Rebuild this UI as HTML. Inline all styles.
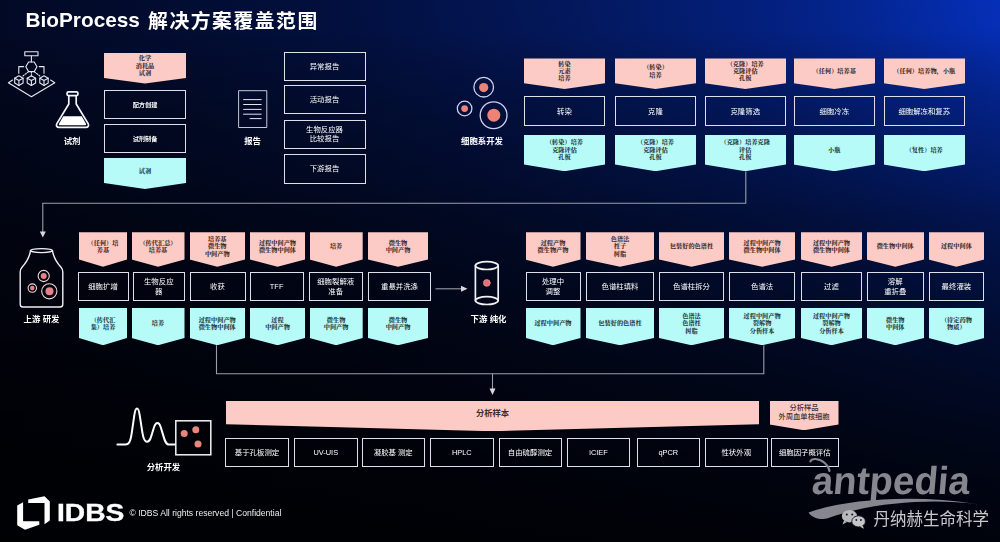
<!DOCTYPE html>
<html lang="zh"><head><meta charset="utf-8"><title>BioProcess 解决方案覆盖范围</title>
<style>
html,body{margin:0;padding:0}
body{width:1000px;height:542px;overflow:hidden;position:relative;background:#010208;font-family:"Liberation Sans","Noto Sans CJK SC",sans-serif;color:#fff}
#bg{position:absolute;left:0;top:0;width:1000px;height:542px;
background:
linear-gradient(180deg,rgba(0,0,1,0.000) 0.00%,rgba(0,0,1,0.010) 5.54%,rgba(0,0,1,0.136) 11.07%,rgba(0,0,1,0.170) 12.73%,rgba(0,0,1,0.236) 16.61%,rgba(0,0,1,0.280) 19.37%,rgba(0,0,1,0.318) 22.14%,rgba(0,0,1,0.387) 27.68%,rgba(0,0,1,0.450) 33.21%,rgba(0,0,1,0.541) 38.75%,rgba(0,0,1,0.555) 39.67%,rgba(0,0,1,0.601) 44.28%,rgba(0,0,1,0.651) 49.82%,rgba(0,0,1,0.694) 55.35%,rgba(0,0,1,0.739) 60.89%,rgba(0,0,1,0.777) 66.42%,rgba(0,0,1,0.810) 71.96%,rgba(0,0,1,0.820) 73.80%,rgba(0,0,1,0.845) 77.49%,rgba(0,0,1,0.876) 83.03%,rgba(0,0,1,0.901) 88.56%,rgba(0,0,1,0.915) 92.25%,rgba(0,0,1,0.922) 94.10%,rgba(0,0,1,0.941) 99.63%,rgba(0,0,1,0.942) 100.00%),
linear-gradient(90deg,rgb(2,9,37) 0.0%,rgb(2,10,40) 5.0%,rgb(2,11,43) 10.0%,rgb(2,12,47) 15.0%,rgb(2,13,51) 20.0%,rgb(2,14,55) 25.0%,rgb(2,15,59) 30.0%,rgb(2,16,64) 35.0%,rgb(2,18,70) 40.0%,rgb(3,19,76) 45.0%,rgb(3,21,82) 50.0%,rgb(3,23,89) 55.0%,rgb(3,25,97) 60.0%,rgb(3,27,105) 65.0%,rgb(3,29,113) 70.0%,rgb(3,31,123) 75.0%,rgb(4,34,133) 80.0%,rgb(4,37,144) 85.0%,rgb(4,40,157) 90.0%,rgb(4,43,170) 95.0%,rgb(5,47,184) 100.0%);}
.title{position:absolute;left:25.5px;top:6.8px;font-size:20.8px;font-weight:bold;white-space:nowrap;line-height:26px;color:#fff}
.chev{position:absolute;box-sizing:border-box}
.chev .in{display:flex;align-items:center;justify-content:center;text-align:center;width:100%}
.ct{font-family:"Liberation Serif","Noto Serif CJK SC",serif;font-weight:900;font-size:6.2px;line-height:7.4px;color:#423232;white-space:nowrap}
.box{position:absolute;box-sizing:border-box;border:1.6px solid #dedfe8;display:flex;align-items:center;justify-content:center;text-align:center;font-size:7.4px;line-height:9.5px;color:#fff;white-space:nowrap;padding-top:1.6px}
.box.sm{font-size:6.2px;font-weight:bold;padding-top:0}
.box.rp{padding-top:0}
.cy{color:#2c4246}
.bt{font-family:"Liberation Sans","Noto Sans CJK SC",sans-serif;font-weight:bold;font-size:8.3px;color:#3d2c2c;padding-left:0}
.st{font-family:"Liberation Sans","Noto Sans CJK SC",sans-serif;font-weight:500;font-size:7.3px;line-height:8.5px;color:#3f3636}
.box.bb{padding-top:.4px}
.lab{position:absolute;text-align:center;font-weight:bold;font-size:8.4px;margin-top:-.5px;line-height:16px;color:#fff;white-space:nowrap}
svg{position:absolute;left:0;top:0}
#fg{position:absolute;left:0;top:0;width:1000px;height:542px;filter:blur(.45px)}
.foot{position:absolute;white-space:nowrap}
</style></head><body>
<div id="bg"></div>
<div id="fg">
<div class="title">BioProcess <span style="font-size:19.8px;letter-spacing:1.55px;margin-left:2.4px;position:relative;top:1.1px">解决方案覆盖范围</span></div>
<svg width="1000" height="542" viewBox="0 0 1000 542" fill="none" stroke="#9c9daa" stroke-width="1.1">
<!-- connectors -->
<path d="M745.8 171.2V203.3H42.8V232" />
<path d="M39.8 231.5h6l-3 6z" fill="#d8d8dc" stroke="none"/>
<path d="M216.5 345.2V373.7H763.8V345.2"/>
<path d="M492.5 373.7V389"/>
<path d="M489.5 388.5h6l-3 6.5z" fill="#d8d8dc" stroke="none"/>
<path d="M435.5 288.8H462"/>
<path d="M461 285.8v6l6.5-3z" fill="#d8d8dc" stroke="none"/>
</svg>
<svg width="1000" height="542" viewBox="0 0 1000 542" fill="none" stroke="#e6e6ee" stroke-width="1" stroke-linecap="round" stroke-linejoin="round">
<!-- hierarchy icon -->
<g stroke-width="1.1">
<rect x="24.8" y="51.8" width="13.2" height="4"/>
<path d="M31.4 56V62"/>
<path d="M28.6 62h5.6l2.8 4.8-2.8 4.8h-5.6l-2.8-4.8z"/>
<path d="M23.6 66.6h-4.8v6.6M39.2 66.6h4.8v6.6"/>
<path d="M28.6 71.6l-5.6 4.4M31.4 71.6v4.4M34.2 71.6l5.6 4.4" stroke-dasharray="1.6 1.4"/>
<g id="cube"><path d="M18.9 75.8l4.2 2.4v4.8l-4.2 2.4-4.2-2.4v-4.8z"/><path d="M14.7 78.2l4.2 2.4 4.2-2.4M18.9 80.6v4.8"/></g>
<g transform="translate(12.5 0)"><path d="M18.9 75.8l4.2 2.4v4.8l-4.2 2.4-4.2-2.4v-4.8z"/><path d="M14.7 78.2l4.2 2.4 4.2-2.4M18.9 80.6v4.8"/></g>
<g transform="translate(25.1 0)"><path d="M18.9 75.8l4.2 2.4v4.8l-4.2 2.4-4.2-2.4v-4.8z"/><path d="M14.7 78.2l4.2 2.4 4.2-2.4M18.9 80.6v4.8"/></g>
<path d="M12.6 80l-4.2 2.7 23 14.1 23.4-14.1-4.2-2.7"/>
</g>
<!-- flask -->
<g stroke-width="1.7" stroke="#f6f6fa">
<rect x="67" y="91.8" width="11" height="3.8" rx="1.6"/>
<path d="M68.8 95.8v8.2l-11.8 19.4c-1.4 2.4-.2 4 2.2 4h26.6c2.4 0 3.6-1.6 2.2-4l-11.8-19.4v-8.2"/>
<path d="M63.3 116.2h18.4l4.2 7.2c.6 1.2 0 1.8-1.1 1.8h-24.6c-1.1 0-1.7-.6-1.1-1.8z" fill="#fff" stroke="none"/>
</g>
<!-- report -->
<rect x="239" y="90.7" width="27.8" height="36.8" stroke-width="0.9" stroke="#dcdce8"/>
<path d="M243.2 99.6h18.4M243.2 104.5h18.4M243.2 109.4h18.4M243.2 114.2h18.4M249.6 118.6h12" stroke-width="1" stroke="#e4e4ee" stroke-linecap="butt"/>
<!-- cells -->
<g stroke="#cfd0ee" stroke-width="1.3">
<circle cx="483.7" cy="87.2" r="9.8"/><circle cx="464.6" cy="108.5" r="7.3"/><circle cx="493.6" cy="115.2" r="13.4"/>
</g>
<g stroke="none" fill="#ee8276">
<circle cx="483.7" cy="87.6" r="4.6"/><circle cx="464.6" cy="108.6" r="3.4"/><circle cx="493.8" cy="115.2" r="6.5"/>
</g>
<!-- bioreactor -->
<g stroke="#f0f0f4" stroke-width="1.4">
<ellipse cx="41.5" cy="250.6" rx="11" ry="2"/>
<path d="M30.5 250.8C29.4 257.5 26.8 262 22.2 267Q20.2 269.2 20.2 272V304.2Q20.2 307 23 307H60Q62.8 307 62.8 304.2V272Q62.8 269.2 60.8 267C56.2 262 53.6 257.5 52.5 250.8"/>
</g>
<g stroke="#f2d6d4" stroke-width="1.1">
<circle cx="43.7" cy="276" r="5.6"/><circle cx="32.3" cy="288.1" r="4.2"/><circle cx="49.3" cy="291.3" r="7.6"/>
</g>
<g stroke="none" fill="#e8828a">
<circle cx="43.7" cy="276" r="3"/><circle cx="32.3" cy="288.1" r="2.3"/><circle cx="49.5" cy="291.3" r="4"/>
</g>
<!-- cylinder -->
<g stroke="#f0f0f4" stroke-width="1.7">
<ellipse cx="486.8" cy="265.6" rx="11.4" ry="3.9"/>
<ellipse cx="486.8" cy="300.6" rx="11.4" ry="3.9"/>
<path d="M475.4 265.6v35M498.2 265.6v35"/>
</g>
<circle cx="486.8" cy="282.9" r="3.4" fill="#e2707c" stroke="#f0a0a6" stroke-width="0.6"/>
<!-- analytics -->
<path d="M117.4 444.6h8c4 0 5.2-4 6.4-12l2.6-18c.8-5 1.4-6.2 2.6-6.2s1.8 1.2 2.6 6.2l2.8 18c.8 5 2 9.2 4.6 9.2s3.6-3 5-8l2.2-7c1.2-3.6 2.2-3.8 3.2-3.8s2 .2 3.2 3.8l2.4 7.8c1.4 5 2.6 10 6.0 10h6" stroke="#fff" stroke-width="2"/>
<rect x="175.8" y="420.8" width="35" height="34" stroke="#f4f4f4" stroke-width="1.5" stroke-linejoin="miter"/>
<g stroke="none" fill="#e8867c"><circle cx="184.2" cy="433.4" r="3.5"/><circle cx="195.8" cy="429.8" r="3.5"/><circle cx="198" cy="443.9" r="3.5"/></g>
</svg>
<div class="chev ct" style="left:104px;top:53px;width:82px;height:30.5px;background:#fccbc5;clip-path:polygon(0 0,100% 0,100% 82.0%,50% 100%,0 82.0%)"><div class="in" style="height:25px">化学<br>消耗品<br>试剂</div></div>
<div class="box sm" style="left:104px;top:90px;width:82px;height:29px"><span>配方创建</span></div>
<div class="box sm" style="left:104px;top:123.5px;width:82px;height:29.5px"><span>试剂制备</span></div>
<div class="chev ct cy" style="left:104px;top:158px;width:82px;height:31px;background:#b6fbf7;clip-path:polygon(0 0,100% 0,100% 80.6%,50% 100%,0 80.6%)"><div class="in" style="height:25px">试剂</div></div>
<div class="lab" style="left:12px;top:133px;width:120px">试剂</div>
<div class="box rp" style="left:283.5px;top:52px;width:82.0px;height:29px"><span>异常报告</span></div>
<div class="box rp" style="left:283.5px;top:85px;width:82.0px;height:29px"><span>活动报告</span></div>
<div class="box rp" style="left:283.5px;top:119.5px;width:82.0px;height:29.0px"><span>生物反应器<br>比较报告</span></div>
<div class="box rp" style="left:283.5px;top:154px;width:82.0px;height:29.5px"><span>下游报告</span></div>
<div class="lab" style="left:192.5px;top:133px;width:120px">报告</div>
<div class="chev ct" style="left:524px;top:58.4px;width:81px;height:30.6px;background:#fccbc5;clip-path:polygon(0 0,100% 0,100% 81.0%,50% 100%,0 81.0%)"><div class="in" style="height:24.800000000000004px">转染<br>元素<br>培养</div></div>
<div class="box " style="left:524px;top:96px;width:81px;height:29.5px"><span>转染</span></div>
<div class="chev ct cy" style="left:524px;top:134.5px;width:81px;height:36.69999999999999px;background:#b6fbf7;clip-path:polygon(0 0,100% 0,100% 81.7%,50% 100%,0 81.7%)"><div class="in" style="height:30.0px">（转染）培养<br>克隆评估<br>孔板</div></div>
<div class="chev ct" style="left:615px;top:58.4px;width:81px;height:30.6px;background:#fccbc5;clip-path:polygon(0 0,100% 0,100% 81.0%,50% 100%,0 81.0%)"><div class="in" style="height:24.800000000000004px">（转染）<br>培养</div></div>
<div class="box " style="left:615px;top:96px;width:81px;height:29.5px"><span>克隆</span></div>
<div class="chev ct cy" style="left:615px;top:134.5px;width:81px;height:36.69999999999999px;background:#b6fbf7;clip-path:polygon(0 0,100% 0,100% 81.7%,50% 100%,0 81.7%)"><div class="in" style="height:30.0px">（克隆）培养<br>克隆评估<br>孔板</div></div>
<div class="chev ct" style="left:704.5px;top:58.4px;width:81.5px;height:30.6px;background:#fccbc5;clip-path:polygon(0 0,100% 0,100% 81.0%,50% 100%,0 81.0%)"><div class="in" style="height:24.800000000000004px">（克隆）培养<br>克隆评估<br>孔板</div></div>
<div class="box " style="left:704.5px;top:96px;width:81.5px;height:29.5px"><span>克隆筛选</span></div>
<div class="chev ct cy" style="left:704.5px;top:134.5px;width:81.5px;height:36.69999999999999px;background:#b6fbf7;clip-path:polygon(0 0,100% 0,100% 81.7%,50% 100%,0 81.7%)"><div class="in" style="height:30.0px">（克隆）培养克隆<br>评估<br>孔板</div></div>
<div class="chev ct" style="left:793.5px;top:58.4px;width:81.5px;height:30.6px;background:#fccbc5;clip-path:polygon(0 0,100% 0,100% 81.0%,50% 100%,0 81.0%)"><div class="in" style="height:24.800000000000004px">（任何）培养基</div></div>
<div class="box " style="left:793.5px;top:96px;width:81.5px;height:29.5px"><span>细胞冷冻</span></div>
<div class="chev ct cy" style="left:793.5px;top:134.5px;width:81.5px;height:36.69999999999999px;background:#b6fbf7;clip-path:polygon(0 0,100% 0,100% 81.7%,50% 100%,0 81.7%)"><div class="in" style="height:30.0px">小瓶</div></div>
<div class="chev ct" style="left:883.5px;top:58.4px;width:81.5px;height:30.6px;background:#fccbc5;clip-path:polygon(0 0,100% 0,100% 81.0%,50% 100%,0 81.0%)"><div class="in" style="height:24.800000000000004px">（任何）培养物，小瓶</div></div>
<div class="box " style="left:883.5px;top:96px;width:81.5px;height:29.5px"><span>细胞解冻和复苏</span></div>
<div class="chev ct cy" style="left:883.5px;top:134.5px;width:81.5px;height:36.69999999999999px;background:#b6fbf7;clip-path:polygon(0 0,100% 0,100% 81.7%,50% 100%,0 81.7%)"><div class="in" style="height:30.0px">（复性）培养</div></div>
<div class="lab" style="left:422px;top:133px;width:120px">细胞系开发</div>
<div class="chev ct" style="left:79px;top:232.3px;width:48px;height:34.5px;background:#fccbc5;clip-path:polygon(0 0,100% 0,100% 79.1%,50% 100%,0 79.1%)"><div class="in" style="height:27.30000000000001px">（任何）培<br>养基</div></div>
<div class="box " style="left:77.5px;top:271.5px;width:51.0px;height:29.399999999999977px"><span>细胞扩增</span></div>
<div class="chev ct cy" style="left:79px;top:308px;width:48px;height:37.19999999999999px;background:#b6fbf7;clip-path:polygon(0 0,100% 0,100% 80.6%,50% 100%,0 80.6%)"><div class="in" style="height:30px">（传代汇<br>集）培养</div></div>
<div class="chev ct" style="left:131.5px;top:232.3px;width:53.0px;height:34.5px;background:#fccbc5;clip-path:polygon(0 0,100% 0,100% 79.1%,50% 100%,0 79.1%)"><div class="in" style="height:27.30000000000001px">（传代汇总）<br>培养基</div></div>
<div class="box " style="left:132.5px;top:271.5px;width:52.5px;height:29.399999999999977px"><span>生物反应<br>器</span></div>
<div class="chev ct cy" style="left:131.5px;top:308px;width:53.0px;height:37.19999999999999px;background:#b6fbf7;clip-path:polygon(0 0,100% 0,100% 80.6%,50% 100%,0 80.6%)"><div class="in" style="height:30px">培养</div></div>
<div class="chev ct" style="left:189.5px;top:232.3px;width:55.5px;height:34.5px;background:#fccbc5;clip-path:polygon(0 0,100% 0,100% 79.1%,50% 100%,0 79.1%)"><div class="in" style="height:27.30000000000001px">培养基<br>微生物<br>中间产物</div></div>
<div class="box " style="left:189.5px;top:271.5px;width:56.0px;height:29.399999999999977px"><span>收获</span></div>
<div class="chev ct cy" style="left:189.5px;top:308px;width:55.5px;height:37.19999999999999px;background:#b6fbf7;clip-path:polygon(0 0,100% 0,100% 80.6%,50% 100%,0 80.6%)"><div class="in" style="height:30px">过程中间产物<br>微生物中间体</div></div>
<div class="chev ct" style="left:250px;top:232.3px;width:55px;height:34.5px;background:#fccbc5;clip-path:polygon(0 0,100% 0,100% 79.1%,50% 100%,0 79.1%)"><div class="in" style="height:27.30000000000001px">过程中间产物<br>微生物中间体</div></div>
<div class="box " style="left:249.7px;top:271.5px;width:53.900000000000034px;height:29.399999999999977px"><span>TFF</span></div>
<div class="chev ct cy" style="left:250px;top:308px;width:55px;height:37.19999999999999px;background:#b6fbf7;clip-path:polygon(0 0,100% 0,100% 80.6%,50% 100%,0 80.6%)"><div class="in" style="height:30px">过程<br>中间产物</div></div>
<div class="chev ct" style="left:309.5px;top:232.3px;width:53.19999999999999px;height:34.5px;background:#fccbc5;clip-path:polygon(0 0,100% 0,100% 79.1%,50% 100%,0 79.1%)"><div class="in" style="height:27.30000000000001px">培养</div></div>
<div class="box " style="left:308.7px;top:271.5px;width:54.0px;height:29.399999999999977px"><span>细胞裂解液<br>准备</span></div>
<div class="chev ct cy" style="left:309.5px;top:308px;width:53.19999999999999px;height:37.19999999999999px;background:#b6fbf7;clip-path:polygon(0 0,100% 0,100% 80.6%,50% 100%,0 80.6%)"><div class="in" style="height:30px">微生物<br>中间产物</div></div>
<div class="chev ct" style="left:368px;top:232.3px;width:60px;height:34.5px;background:#fccbc5;clip-path:polygon(0 0,100% 0,100% 79.1%,50% 100%,0 79.1%)"><div class="in" style="height:27.30000000000001px">微生物<br>中间产物</div></div>
<div class="box " style="left:368px;top:271.5px;width:63px;height:29.399999999999977px"><span>重悬并洗涤</span></div>
<div class="chev ct cy" style="left:368px;top:308px;width:60px;height:37.19999999999999px;background:#b6fbf7;clip-path:polygon(0 0,100% 0,100% 80.6%,50% 100%,0 80.6%)"><div class="in" style="height:30px">微生物<br>中间产物</div></div>
<div class="lab" style="left:-18.5px;top:311px;width:120px">上游 研发</div>
<div class="chev ct" style="left:525.5px;top:232.3px;width:55.0px;height:34.5px;background:#fccbc5;clip-path:polygon(0 0,100% 0,100% 79.1%,50% 100%,0 79.1%)"><div class="in" style="height:27.30000000000001px">过程产物<br>微生物产物</div></div>
<div class="box " style="left:525.5px;top:271.5px;width:55.0px;height:29.399999999999977px"><span>处理中<br>调整</span></div>
<div class="chev ct cy" style="left:525.5px;top:308px;width:55.0px;height:37.19999999999999px;background:#b6fbf7;clip-path:polygon(0 0,100% 0,100% 80.6%,50% 100%,0 80.6%)"><div class="in" style="height:30px">过程中间产物</div></div>
<div class="chev ct" style="left:586px;top:232.3px;width:68px;height:34.5px;background:#fccbc5;clip-path:polygon(0 0,100% 0,100% 79.1%,50% 100%,0 79.1%)"><div class="in" style="height:27.30000000000001px">色谱法<br>柱子<br>树脂</div></div>
<div class="box " style="left:586px;top:271.5px;width:68px;height:29.399999999999977px"><span>色谱柱填料</span></div>
<div class="chev ct cy" style="left:586px;top:308px;width:68px;height:37.19999999999999px;background:#b6fbf7;clip-path:polygon(0 0,100% 0,100% 80.6%,50% 100%,0 80.6%)"><div class="in" style="height:30px">包装好的色谱柱</div></div>
<div class="chev ct" style="left:659px;top:232.3px;width:65px;height:34.5px;background:#fccbc5;clip-path:polygon(0 0,100% 0,100% 79.1%,50% 100%,0 79.1%)"><div class="in" style="height:27.30000000000001px">包装好的色谱柱</div></div>
<div class="box " style="left:659px;top:271.5px;width:65px;height:29.399999999999977px"><span>色谱柱拆分</span></div>
<div class="chev ct cy" style="left:659px;top:308px;width:65px;height:37.19999999999999px;background:#b6fbf7;clip-path:polygon(0 0,100% 0,100% 80.6%,50% 100%,0 80.6%)"><div class="in" style="height:30px">色谱法<br>色谱柱<br>树脂</div></div>
<div class="chev ct" style="left:729px;top:232.3px;width:66.20000000000005px;height:34.5px;background:#fccbc5;clip-path:polygon(0 0,100% 0,100% 79.1%,50% 100%,0 79.1%)"><div class="in" style="height:27.30000000000001px">过程中间产物<br>微生物中间体</div></div>
<div class="box " style="left:729px;top:271.5px;width:66.20000000000005px;height:29.399999999999977px"><span>色谱法</span></div>
<div class="chev ct cy" style="left:729px;top:308px;width:66.20000000000005px;height:37.19999999999999px;background:#b6fbf7;clip-path:polygon(0 0,100% 0,100% 80.6%,50% 100%,0 80.6%)"><div class="in" style="height:30px">过程中间产物<br>裂解物<br>分析样本</div></div>
<div class="chev ct" style="left:801px;top:232.3px;width:61px;height:34.5px;background:#fccbc5;clip-path:polygon(0 0,100% 0,100% 79.1%,50% 100%,0 79.1%)"><div class="in" style="height:27.30000000000001px">过程中间产物<br>微生物中间体</div></div>
<div class="box " style="left:801px;top:271.5px;width:61px;height:29.399999999999977px"><span>过滤</span></div>
<div class="chev ct cy" style="left:801px;top:308px;width:61px;height:37.19999999999999px;background:#b6fbf7;clip-path:polygon(0 0,100% 0,100% 80.6%,50% 100%,0 80.6%)"><div class="in" style="height:30px">过程中间产物<br>裂解物<br>分析样本</div></div>
<div class="chev ct" style="left:866.5px;top:232.3px;width:57.5px;height:34.5px;background:#fccbc5;clip-path:polygon(0 0,100% 0,100% 79.1%,50% 100%,0 79.1%)"><div class="in" style="height:27.30000000000001px">微生物中间体</div></div>
<div class="box " style="left:866.5px;top:271.5px;width:57.5px;height:29.399999999999977px"><span>溶解<br>重折叠</span></div>
<div class="chev ct cy" style="left:866.5px;top:308px;width:57.5px;height:37.19999999999999px;background:#b6fbf7;clip-path:polygon(0 0,100% 0,100% 80.6%,50% 100%,0 80.6%)"><div class="in" style="height:30px">微生物<br>中间体</div></div>
<div class="chev ct" style="left:928.5px;top:232.3px;width:55.799999999999955px;height:34.5px;background:#fccbc5;clip-path:polygon(0 0,100% 0,100% 79.1%,50% 100%,0 79.1%)"><div class="in" style="height:27.30000000000001px">过程中间体</div></div>
<div class="box " style="left:928.5px;top:271.5px;width:55.799999999999955px;height:29.399999999999977px"><span>最终灌装</span></div>
<div class="chev ct cy" style="left:928.5px;top:308px;width:55.799999999999955px;height:37.19999999999999px;background:#b6fbf7;clip-path:polygon(0 0,100% 0,100% 80.6%,50% 100%,0 80.6%)"><div class="in" style="height:30px">（待定药物<br>物质）</div></div>
<div class="lab" style="left:428.5px;top:311px;width:120px">下游 纯化</div>
<div class="chev ct" style="left:226px;top:400.8px;width:533px;height:30.4px;background:#fccbc5;clip-path:polygon(0 0,100% 0,100% 77%,50% 100%,0 77%)"><div class="in bt" style="height:25px">分析样本</div></div>
<div class="chev ct st" style="left:769.5px;top:400.8px;width:69.0px;height:29.5px;background:#fccbc5;clip-path:polygon(0 0,100% 0,100% 80.7%,50% 100%,0 80.7%)"><div class="in" style="height:23.80000000000001px">分析样品<br>外周血单核细胞</div></div>
<div class="box bb" style="left:225px;top:438px;width:64px;height:29.30000000000001px"><span>基于孔板测定</span></div>
<div class="box bb" style="left:294px;top:438px;width:63.5px;height:29.30000000000001px"><span>UV-UIS</span></div>
<div class="box bb" style="left:361.5px;top:438px;width:63.5px;height:29.30000000000001px"><span>凝胶基 测定</span></div>
<div class="box bb" style="left:430px;top:438px;width:63.5px;height:29.30000000000001px"><span>HPLC</span></div>
<div class="box bb" style="left:498.5px;top:438px;width:63.0px;height:29.30000000000001px"><span>自由硫醇测定</span></div>
<div class="box bb" style="left:567px;top:438px;width:63px;height:29.30000000000001px"><span>iCIEF</span></div>
<div class="box bb" style="left:636.5px;top:438px;width:63.5px;height:29.30000000000001px"><span>qPCR</span></div>
<div class="box bb" style="left:705px;top:438px;width:62.5px;height:29.30000000000001px"><span>性状外观</span></div>
<div class="box bb" style="left:770.5px;top:438px;width:68.5px;height:29.30000000000001px"><span>细胞因子概评估</span></div>
<div class="lab" style="left:103.5px;top:459px;width:120px">分析开发</div><svg width="1000" height="542" viewBox="0 0 1000 542">
<path d="M17.2 505.6L23.1 502.3V521.2H39.3V524.8L25 529.8L17.2 525.2Z" fill="#fff"/>
<path d="M28.2 499.4L44.5 496.2L49.8 501.4V520.6L44.5 524.2V503H28.2Z" fill="#fff"/>
<!-- antpedia swoosh -->
<path d="M808.5 512.4C850 498.5 915 494.5 978 504.2C930 497.8 868 502.8 827 518.6C820 519.8 812 517.8 808.5 512.4Z" fill="#86868e"/>
<path d="M829.5 471C828.5 465 822.5 459.6 815.6 459C812.8 458.8 811 459.8 810.4 461.4" fill="none" stroke="#86868e" stroke-width="2.1" stroke-linecap="round"/>
<!-- wechat -->
<g fill="#b9b9bd">
<ellipse cx="849.5" cy="516.2" rx="7.6" ry="6.2"/>
<path d="M844 520.5l-1.5 4 4.5-2.5z"/>
</g>
<g fill="#c6c6ca" stroke="#14161c" stroke-width="0.9">
<ellipse cx="858.6" cy="521.4" rx="6.8" ry="5.6"/>
</g>
<path d="M862.5 525.6l1.6 3.2-4.2-2z" fill="#c6c6ca"/>
<g fill="#14161c"><circle cx="846.8" cy="514.4" r="1"/><circle cx="852.2" cy="514.4" r="1"/><circle cx="856.3" cy="520" r=".9"/><circle cx="860.9" cy="520" r=".9"/></g>
</svg>
<div class="foot" style="left:57.2px;top:498.3px;font-size:24.5px;font-weight:bold;line-height:30px;color:#fff;-webkit-text-stroke:.35px #fff;transform-origin:0 0;transform:scaleX(1.15)">IDBS</div>
<div class="foot" style="left:129.5px;top:506.5px;font-size:8.6px;line-height:13px;color:#f0f0f0">© IDBS All rights reserved | Confidential</div>
<div class="foot" style="left:814.2px;top:458.8px;font-size:39px;font-weight:bold;line-height:44px;color:#86868e;transform-origin:0 0;transform:skewX(-5deg) scaleX(.985)">antpedia</div>
<div class="foot" style="left:873.5px;top:508px;font-size:16.5px;line-height:22px;color:#c9c9cc;font-family:'Liberation Sans','Noto Sans CJK SC',sans-serif">丹纳赫生命科学</div>
</div>
</body></html>
